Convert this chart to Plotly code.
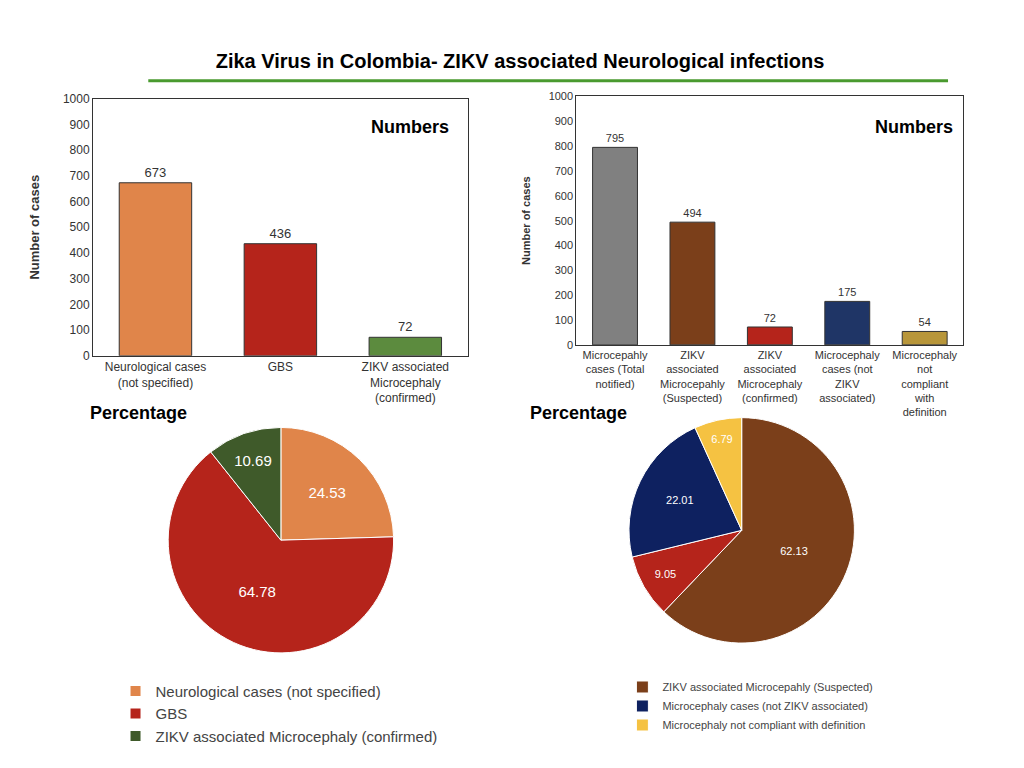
import plotly.graph_objects as go

left_cats = ["Neurological cases<br>(not specified)", "GBS", "ZIKV associated<br>Microcephaly<br>(confirmed)"]
left_vals = [673, 436, 72]
left_colors = ["#E0854A", "#B5241B", "#5C8B3E"]

right_cats = ["Microcepahly<br>cases (Total<br>notified)", "ZIKV<br>associated<br>Microcepahly<br>(Suspected)",
              "ZIKV<br>associated<br>Microcephaly<br>(confirmed)", "Microcephaly<br>cases (not<br>ZIKV<br>associated)",
              "Microcephaly<br>not<br>compliant<br>with<br>definition"]
right_vals = [795, 494, 72, 175, 54]
right_colors = ["#808080", "#7B3F1A", "#B5241B", "#1F3566", "#B8963A"]

lpie_labels = ["Neurological cases (not specified)", "GBS", "ZIKV associated Microcephaly (confirmed)"]
lpie_vals = [24.53, 64.78, 10.69]
lpie_colors = ["#E0854A", "#B5241B", "#3F5A2A"]

rpie_labels = ["ZIKV associated Microcepahly (Suspected)", "ZIKV associated Microcephaly (confirmed)",
               "Microcephaly cases (not ZIKV associated)", "Microcephaly not compliant with definition"]
rpie_vals = [62.13, 9.05, 22.01, 6.79]
rpie_colors = ["#7B3F1A", "#B5241B", "#0E2160", "#F5C242"]

fig = go.Figure()
fig.add_trace(go.Bar(x=left_cats, y=left_vals, marker=dict(color=left_colors, line=dict(color="#333", width=1)),
                     text=left_vals, textposition="outside", textfont=dict(size=13, color="#333"),
                     width=0.58, xaxis="x", yaxis="y", showlegend=False, cliponaxis=False))
fig.add_trace(go.Bar(x=right_cats, y=right_vals, marker=dict(color=right_colors, line=dict(color="#333", width=1)),
                     text=right_vals, textposition="outside", textfont=dict(size=11, color="#333"),
                     width=0.58, xaxis="x2", yaxis="y2", showlegend=False, cliponaxis=False))
fig.add_trace(go.Pie(labels=lpie_labels, values=lpie_vals, marker=dict(colors=lpie_colors, line=dict(color="white", width=1)),
                     sort=False, direction="clockwise", rotation=0, texttemplate="%{value:.2f}",
                     textfont=dict(color="white", size=15), domain=dict(x=[0.154, 0.379], y=[0.154, 0.453]),
                     legend="legend"))
fig.add_trace(go.Pie(labels=rpie_labels, values=rpie_vals, marker=dict(colors=rpie_colors, line=dict(color="white", width=1)),
                     sort=False, direction="clockwise", rotation=0, texttemplate="%{value:.2f}",
                     textfont=dict(color="white", size=11), domain=dict(x=[0.604, 0.829], y=[0.167, 0.466]),
                     legend="legend2"))

axfont = dict(size=12, color="#333", family="Liberation Sans")
fig.update_layout(
    width=1024, height=768, margin=dict(l=0, r=0, t=0, b=0),
    paper_bgcolor="white", plot_bgcolor="white",
    font=dict(family="Liberation Sans", color="#333"),
    title=dict(text="<b>Zika Virus in Colombia- ZIKV associated Neurological infections</b>", x=0.5, y=0.94,
               xanchor="center", font=dict(size=20, color="black")),
    xaxis=dict(domain=[0.083, 0.449], anchor="y", showline=True, linecolor="#333", mirror=True, tickfont=axfont),
    yaxis=dict(domain=[0.548, 0.889], anchor="x", range=[0, 1000], dtick=100, showline=True, linecolor="#333",
               mirror=True, showgrid=False, tickfont=axfont,
               title=dict(text="<b>Number of cases</b>", font=dict(size=13), standoff=20)),
    xaxis2=dict(domain=[0.555, 0.933], anchor="y2", showline=True, linecolor="#333", mirror=True,
                tickfont=dict(size=11, color="#333"), tickangle=0),
    yaxis2=dict(domain=[0.5625, 0.892], anchor="x2", range=[0, 1000], dtick=100, showline=True, linecolor="#333",
                mirror=True, showgrid=False, tickfont=dict(size=11, color="#333"),
                title=dict(text="<b>Number of cases</b>", font=dict(size=11), standoff=15)),
    legend=dict(x=0.105, y=0.125, xanchor="left", yanchor="top", font=dict(size=15, color="#444"),
                tracegroupgap=0, itemsizing="constant"),
    legend2=dict(x=0.6, y=0.128, xanchor="left", yanchor="top", font=dict(size=11, color="#444")),
    shapes=[dict(type="line", xref="paper", yref="paper", x0=0.137, x1=0.918, y0=1-67/768, y1=1-67/768,
                 line=dict(color="#4A9A2F", width=3))],
    annotations=[
        dict(text="<b>Numbers</b>", x=0.433, y=0.868, xref="paper", yref="paper", xanchor="right", showarrow=False,
             font=dict(size=18, color="black")),
        dict(text="<b>Numbers</b>", x=0.925, y=0.868, xref="paper", yref="paper", xanchor="right", showarrow=False,
             font=dict(size=18, color="black")),
        dict(text="<b>Percentage</b>", x=0.078, y=1-405/768, xref="paper", yref="paper", xanchor="left", showarrow=False,
             font=dict(size=18, color="black")),
        dict(text="<b>Percentage</b>", x=0.508, y=1-405/768, xref="paper", yref="paper", xanchor="left", showarrow=False,
             font=dict(size=18, color="black")),
    ],
)
fig.write_html("out.html")
